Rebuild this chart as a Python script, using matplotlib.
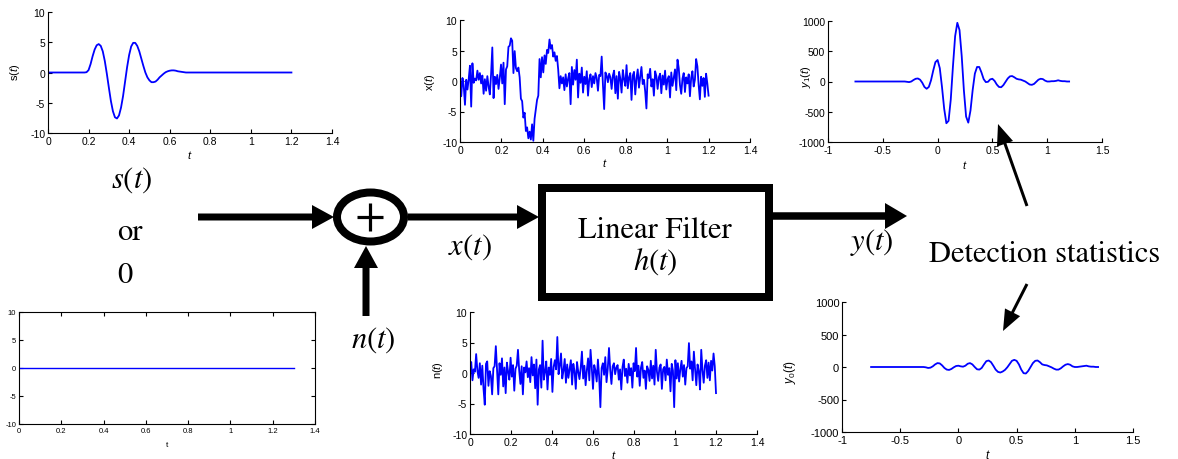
import numpy as np
import matplotlib
matplotlib.use('Agg')
import matplotlib.pyplot as plt
from matplotlib.patches import FancyArrow, Ellipse, Rectangle

plt.rcParams['font.family'] = 'Liberation Sans'
plt.rcParams['mathtext.fontset'] = 'custom'
plt.rcParams['mathtext.rm'] = 'Liberation Sans'
plt.rcParams['mathtext.it'] = 'Liberation Sans:italic'
plt.rcParams['axes.unicode_minus'] = False

# ---- data ----
# clean signal s(t): zero outside the pulse, pulse sampled every 0.01
s_pulse_t = np.round(np.arange(18, 69) / 100, 2)
s_pulse = [0, 0.05, 0.4, 1.4, 2.7, 3.8, 4.5, 4.7, 4.4, 3.5,
           1.9, -0.2, -2.5, -4.7, -6.4, -7.4, -7.6, -7.1, -5.8, -3.9,
           -1.5, 0.9, 2.9, 4.3, 4.9, 4.9, 4.4, 3.5, 2.3, 1.1,
           0.0, -0.8, -1.3, -1.6, -1.6, -1.5, -1.2, -0.8, -0.5, -0.2,
           0.05, 0.2, 0.3, 0.35, 0.35, 0.3, 0.2, 0.15, 0.1, 0.05, 0]
s_t = np.concatenate([[0.0], s_pulse_t, [1.2]])
s_val = np.concatenate([[0.0], s_pulse, [0.0]])

# received signal x(t), sampled every 0.006 from 0 to 1.2
x_val = [0.7, -2.5, 0.5, -0.8, -3.9, 0.2, -1.4, 0.3, 2.5, -4.2,
         2.9, -0.3, 0.4, 0.1, 1.7, 0.2, 1.3, -0.4, 0.9, -2.1,
         0.3, -1.6, 0.8, -0.9, -2.2, 1.1, 5.5, -2.8, 0.7, -0.5,
         1.0, -1.3, 0.5, 2.7, -0.4, 3.0, -3.8, 1.9, 2.4, 5.6,
         5.8, 7.0, 6.6, 1.3, 4.9, 2.1, 1.6, 2.2, 0.6, -2.9,
         -3.3, -6.0, -5.2, -8.2, -7.6, -9.4, -8.3, -9.6, -7.1, -9.8,
         -6.2, -4.7, -3.1, -2.4, 3.6, 0.6, 3.9, 1.4, 4.2, 2.8,
         5.1, 4.6, 6.8, 5.3, 5.9, 4.0, 4.7, 3.3, 4.1, 1.9,
         -1.2, 0.8, -0.4, 0.6, -1.5, 1.1, -0.9, 0.4, 1.3, -3.8,
         2.3, -0.6, 1.8, 0.2, 3.5, -2.7, 1.2, -0.3, 2.2, -1.9,
         0.7, -0.5, 1.6, -2.4, 0.3, 1.1, -1.0, 0.8, -0.4, 1.3,
         0.5, -1.6, 1.0, 0.8, 4.0, -0.6, -4.6, 1.4, 0.9, -0.2,
         1.2, 0.6, -1.3, 0.9, 1.7, -2.0, 0.8, -2.9, 1.5, 0.4,
         -1.9, 1.8, 0.3, -0.8, 2.6, -1.2, 0.6, 1.3, -3.1, 0.9,
         1.5, -2.2, 0.4, 1.9, -1.1, 0.7, 2.3, -0.5, 0.2, -1.7,
         -4.5, 1.1, 0.5, 2.0, -0.9, 0.3, -2.4, 1.6, 0.8, -1.3,
         0.6, 1.2, -2.0, 0.9, -0.6, 1.7, -1.4, 0.3, 0.8, -2.7,
         1.4, -0.8, 0.5, 1.9, -1.5, 3.5, 2.1, -0.7, -2.1, 0.4,
         1.3, -1.8, 0.6, -0.4, 1.1, -2.5, 0.5, 1.6, -0.9, 0.2,
         3.6, 2.4, -0.6, -3.0, 0.7, -0.8, 0.5, -2.6, 1.2, -0.4,
         -2.4]

# noise n(t), sampled every 0.006 from 0 to 1.2
n_val = [0.5, 1.8, -1.2, 0.6, 0.2, 3.1, 0.4, -0.8, 1.6, -1.9,
         1.2, -2.6, -5.2, 1.5, 1.9, -2.1, 0.3, -0.5, -3.5, 0.8,
         1.1, 4.4, 0.6, -3.5, 1.6, -0.3, 2.4, -2.2, 0.9, -3.3,
         1.7, 0.2, -1.1, 2.5, -0.6, 1.3, -2.9, 0.7, 1.2, 3.8,
         0.4, -1.8, 1.1, -3.5, 0.9, 0.1, 1.9, -0.7, 0.8, -1.5,
         2.6, -0.4, 1.4, -2.5, 2.2, -5.2, 0.6, 1.3, -2.4, 5.3,
         -1.1, 0.2, 1.9, -2.7, 0.9, -0.3, 2.3, -3.1, 1.0, 2.1,
         0.6, 5.9, -0.2, 1.2, 3.2, -0.9, 0.4, 2.3, -1.6, 1.4,
         -0.8, 0.6, 2.1, -1.9, 1.5, 0.3, -2.6, 1.8, 0.2, -1.0,
         0.8, 3.5, -0.9, 1.2, -2.0, 0.5, 2.4, -1.2, 3.8, 0.9,
         -2.6, 1.3, 0.4, -1.4, 2.2, -0.6, -5.6, 0.8, 1.6, -0.3,
         2.6, -1.5, 0.7, 4.1, 0.5, -1.8, 1.1, 1.6, -0.2, 0.9,
         1.3, -1.1, 0.6, -2.7, 1.0, 2.2, -0.5, 0.7, -1.6, 1.5,
         -0.4, 0.8, -2.4, 1.6, 0.3, 4.1, -0.6, 1.2, -2.1, 0.9,
         1.8, -0.8, 0.4, -2.6, 1.1, 0.5, -1.3, 2.0, -0.9, 1.2,
         -1.9, 3.8, 0.2, -1.3, 0.9, 1.4, -2.6, 0.6, 1.0, -1.2,
         2.2, -0.3, 0.8, -3.0, 1.5, 0.4, -5.6, 2.1, -0.9, 1.6,
         -1.4, 0.6, 2.0, -0.6, 1.3, -1.9, 0.8, 1.1, 4.9, 0.7,
         1.9, -1.2, 3.5, 0.6, -2.0, 1.4, 0.3, -2.7, 3.8, 0.5,
         -1.6, 1.2, 2.1, -0.8, 1.7, -1.2, 2.0, 0.4, 3.2, 1.1,
         -3.3]

# filter outputs: flat from -0.75, then sampled every 0.02 from -0.30 to 1.20
y_t = np.concatenate([[-0.75], np.round(np.arange(-30, 121, 2) / 100, 2)])
y1_val = [0, 0, -5, -10, 0, 25, 45, 50, 30, -20, -90, -120, -90, 20, 180, 320,
          355, 220, -90, -450, -690, -650, -300, 250, 750, 970,
          850, 420, -150, -580, -680, -480, -140, 130, 240, 240,
          150, 40, -10, -5, 35, 45, 10, -50, -90, -95,
          -60, -5, 50, 85, 90, 70, 45, 35, 30, 15,
          0, -25, -50, -55, -40, -5, 30, 45, 40, 15,
          0, 0, 5, 5, 10, 20, 10, 5, 5, 0, 0]
y0_val = [0, 0, -5, -15, -10, 10, 40, 60, 55, 25, -15, -40, -45, -30, -5, 15,
          20, 10, 5, 20, 50, 60, 40, 0, -35, -40,
          -15, 40, 90, 100, 75, 20, -40, -75, -85, -70,
          -45, -5, 45, 95, 110, 95, 40, -40, -95, -100,
          -60, 0, 60, 95, 100, 75, 40, 30, 25, 10,
          -5, -25, -40, -40, -20, 10, 35, 45, 35, 10,
          0, 0, 5, 10, 15, 20, 10, 5, 5, 0, 0]

# "0" input: zero line
z_t = [0.0, 1.3]
z_val = [0.0, 0.0]

t_ticks = [0, 0.2, 0.4, 0.6, 0.8, 1, 1.2, 1.4]
t_labels = ['0', '0.2', '0.4', '0.6', '0.8', '1', '1.2', '1.4']
s_ticks = [-10, -5, 0, 5, 10]
s_labels = ['-10', '-5', '0', '5', '10']
lag_ticks = [-1, -0.5, 0, 0.5, 1, 1.5]
lag_labels = ['-1', '-0.5', '0', '0.5', '1', '1.5']
y_ticks = [-1000, -500, 0, 500, 1000]
y_labels = ['-1000', '-500', '0', '500', '1000']

W, H = 1178, 460
fig = plt.figure(figsize=(W / 100, H / 100), dpi=100)


def px(l, t, r, b):
    return [l / W, 1 - b / H, (r - l) / W, (b - t) / H]


def signal_axes(rect, tx, ty, xlim, xt, xl, ylim, yt, yl, ylab, ylab_pos, xlab_y,
                fs=7.5, boxed=False, lw=1.3):
    ax = fig.add_axes(px(*rect))
    ax.plot(tx, ty, color='#0000ff', lw=lw)
    ax.set_xlim(xlim)
    ax.set_ylim(ylim)
    ax.set_xticks(xt, xl)
    ax.set_yticks(yt, yl)
    ax.tick_params(direction='in', length=3, width=0.8, labelsize=fs, pad=2,
                   top=boxed, right=boxed)
    for side in ['left', 'bottom', 'top', 'right']:
        ax.spines[side].set_linewidth(0.8)
    if not boxed:
        ax.spines['top'].set_visible(False)
        ax.spines['right'].set_visible(False)
    if ylab:
        ax.text(ylab_pos[0], ylab_pos[1], ylab, transform=ax.transAxes, rotation=90,
                ha='center', va='center', fontsize=fs + 0.5)
    ax.text(0.5, xlab_y, '$t$' if not boxed else 't', transform=ax.transAxes,
            ha='center', va='center', fontsize=fs + 0.5)
    ax.patch.set_alpha(0)
    return ax


signal_axes((48, 13, 332, 134), s_t, s_val, (0, 1.4), t_ticks, t_labels,
            (-10, 10), s_ticks, s_labels, r'$\mathrm{s}(t)$', (-0.116, 0.51), -0.174)
t_noise = np.linspace(0, 1.2, len(x_val))
signal_axes((460, 21, 750, 143), t_noise, x_val, (0, 1.4), t_ticks, t_labels,
            (-10, 10), s_ticks, s_labels, r'$\mathrm{x}(t)$', (-0.103, 0.5), -0.164)
signal_axes((828, 22, 1102, 143), y_t, y1_val, (-1, 1.5), lag_ticks, lag_labels,
            (-1000, 1000), y_ticks, y_labels, r'$y_{\mathit{1}}(t)$', (-0.08, 0.545), -0.18)
signal_axes((19, 313, 315, 425), z_t, z_val, (0, 1.4), t_ticks, t_labels,
            (-10, 10), s_ticks, s_labels, None, None, -0.18, fs=5.5, boxed=True, lw=1.0)
t_noise2 = np.linspace(0, 1.2, len(n_val))
signal_axes((470, 313, 757, 435), t_noise2, n_val, (0, 1.4), t_ticks, t_labels,
            (-10, 10), s_ticks, s_labels, r'$\mathrm{n}(t)$', (-0.111, 0.53), -0.164)
signal_axes((842, 303, 1133, 433), y_t, y0_val, (-1, 1.5), lag_ticks, lag_labels,
            (-1000, 1000), y_ticks, y_labels, r'$y_{\mathit{0}}(t)$', (-0.179, 0.47), -0.17,
            fs=8)

# ---- block diagram overlay, in pixel coordinates ----
ov = fig.add_axes([0, 0, 1, 1])
ov.set_xlim(0, W)
ov.set_ylim(H, 0)
ov.axis('off')
ov.patch.set_alpha(0)


def arrow(x0, y0, x1, y1, w=7, hw=24, hl=22):
    ov.add_patch(FancyArrow(x0, y0, x1 - x0, y1 - y0, width=w, head_width=hw,
                            head_length=hl, length_includes_head=True,
                            color='black', lw=0))


arrow(198, 218, 334, 218)
arrow(366, 317, 366, 247)
arrow(408, 218, 539, 218)
arrow(773, 217, 907, 217, w=7.5, hw=26)
arrow(1027, 207, 998, 125, w=3, hw=17, hl=21)
arrow(1027, 285, 1003, 332, w=3, hw=17, hl=21)

ov.add_patch(Ellipse((370.5, 218), 67, 49, fill=False, ec='black', lw=8 * 0.72))
ov.plot([357, 383], [218, 218], color='black', lw=2.3, solid_capstyle='butt')
ov.plot([370, 370], [204, 232], color='black', lw=2.3, solid_capstyle='butt')
ov.add_patch(Rectangle((542, 189), 227, 109, fill=False, ec='black', lw=8 * 0.72))

serif = dict(fontsize=22, family='STIXGeneral', math_fontfamily='stix',
             ha='center', va='baseline')
ov.text(132, 188, '$s(t)$', **serif)
ov.text(130, 240, 'or', **serif)
ov.text(125, 283, '0', **serif)
ov.text(373, 348, '$n(t)$', **serif)
ov.text(470, 255, '$x(t)$', **serif)
ov.text(655, 238, 'Linear Filter', **serif)
ov.text(655, 270, '$h(t)$', **serif)
ov.text(872, 250, '$y(t)$', **serif)
ov.text(1045, 262, 'Detection statistics', **serif)

fig.savefig('out.png', dpi=100)
